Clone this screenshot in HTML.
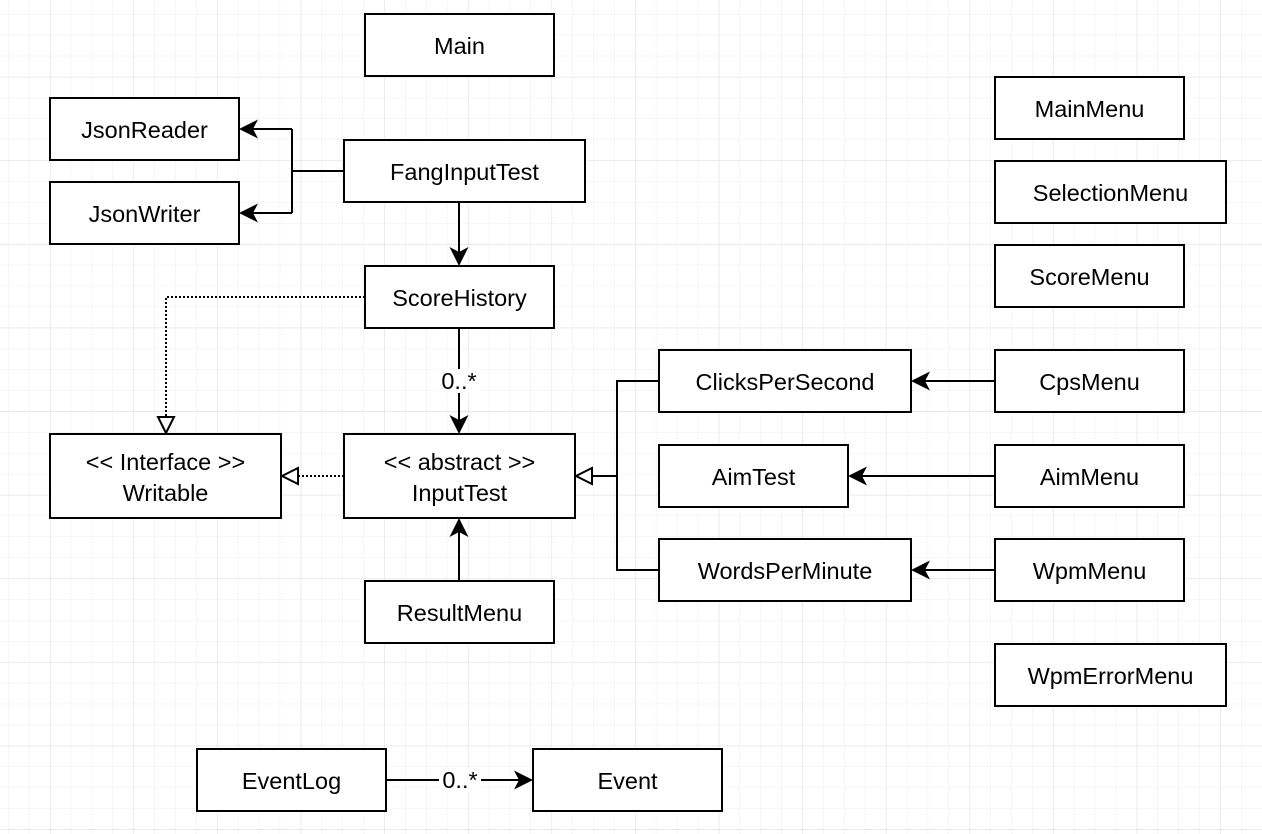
<!DOCTYPE html>
<html><head><meta charset="utf-8"><style>
html,body{margin:0;padding:0;background:#fff}
svg{display:block}
text{font-family:"Liberation Sans",Arial,sans-serif;font-size:23.5px;fill:#000}
</style></head><body>
<svg width="1262" height="834" viewBox="0 0 1262 834" xmlns="http://www.w3.org/2000/svg">
<defs>
<pattern id="g" width="20.9" height="20.9" patternUnits="userSpaceOnUse" x="8" y="14">
<path d="M0 0H20.9M0 0V20.9" stroke="#ececec" stroke-width="1" fill="none"/>
</pattern>
<pattern id="G" width="83.6" height="83.6" patternUnits="userSpaceOnUse" x="50" y="77">
<path d="M0 0H83.6M0 0V83.6" stroke="#e0e0e0" stroke-width="1" fill="none"/>
</pattern>
</defs>
<rect width="1262" height="834" fill="url(#g)"/>
<rect width="1262" height="834" fill="url(#G)"/>
<g stroke="#000" stroke-width="2" fill="none">
<path d="M344 171H292M292 129V213M292 129H250M292 213H250"/>
<path d="M459 202V255"/>
<path d="M459 328V423"/>
<path d="M365 297H166V418" stroke-dasharray="2,2"/>
<path d="M344 476H298" stroke-dasharray="2,2"/>
<path d="M659 381H617V570H659M617 476H592"/>
<path d="M459 581V529"/>
<path d="M995 381H922"/>
<path d="M995 476H859"/>
<path d="M995 570H922"/>
<path d="M386 780H522"/>
</g>
<g fill="#000">
<path d="M239 129L258 119.5L253 129L258 138.5Z"/>
<path d="M239 213L258 203.5L253 213L258 222.5Z"/>
<path d="M459 266L449.5 247L459 252L468.5 247Z"/>
<path d="M459 434L449.5 415L459 420L468.5 415Z"/>
<path d="M459 518L449.5 537L459 532L468.5 537Z"/>
<path d="M911 381L930 371.5L925 381L930 390.5Z"/>
<path d="M848 476L867 466.5L862 476L867 485.5Z"/>
<path d="M911 570L930 560.5L925 570L930 579.5Z"/>
<path d="M533 780L514 770.5L519 780L514 789.5Z"/>
</g>
<g fill="#fff" stroke="#000" stroke-width="2">
<path d="M166 433L158 417L174 417Z"/>
<path d="M282 476L298 468L298 484Z"/>
<path d="M576 476L592 468L592 484Z"/>
</g>
<rect x="438" y="369" width="42" height="24" fill="#fff"/>
<text x="459" y="389" text-anchor="middle" font-size="22">0..*</text>
<rect x="439" y="768" width="42" height="24" fill="#fff"/>
<text x="460" y="788" text-anchor="middle" font-size="22">0..*</text>
<g stroke="#000" stroke-width="2" fill="#fff">
<rect x="365" y="14" width="189" height="62"/>
<rect x="50" y="98" width="189" height="62"/>
<rect x="50" y="182" width="189" height="62"/>
<rect x="344" y="140" width="241" height="62"/>
<rect x="365" y="266" width="189" height="62"/>
<rect x="50" y="434" width="231" height="84"/>
<rect x="344" y="434" width="231" height="84"/>
<rect x="365" y="581" width="189" height="62"/>
<rect x="659" y="350" width="252" height="62"/>
<rect x="659" y="445" width="189" height="62"/>
<rect x="659" y="539" width="252" height="62"/>
<rect x="995" y="77" width="189" height="62"/>
<rect x="995" y="161" width="231" height="62"/>
<rect x="995" y="245" width="189" height="62"/>
<rect x="995" y="350" width="189" height="62"/>
<rect x="995" y="445" width="189" height="62"/>
<rect x="995" y="539" width="189" height="62"/>
<rect x="995" y="644" width="231" height="62"/>
<rect x="197" y="749" width="189" height="62"/>
<rect x="533" y="749" width="189" height="62"/>
</g>
<g text-anchor="middle">
<text x="459.5" y="54">Main</text>
<text x="144.5" y="138">JsonReader</text>
<text x="144.5" y="222">JsonWriter</text>
<text x="464.5" y="180">FangInputTest</text>
<text x="459.5" y="306">ScoreHistory</text>
<text x="165.5" y="470">&lt;&lt; Interface &gt;&gt;</text>
<text x="165.5" y="501">Writable</text>
<text x="459.5" y="470">&lt;&lt; abstract &gt;&gt;</text>
<text x="459.5" y="501">InputTest</text>
<text x="459.5" y="621">ResultMenu</text>
<text x="785" y="390">ClicksPerSecond</text>
<text x="753.5" y="485">AimTest</text>
<text x="785" y="579">WordsPerMinute</text>
<text x="1089.5" y="117">MainMenu</text>
<text x="1110.5" y="201">SelectionMenu</text>
<text x="1089.5" y="285">ScoreMenu</text>
<text x="1089.5" y="390">CpsMenu</text>
<text x="1089.5" y="485">AimMenu</text>
<text x="1089.5" y="579">WpmMenu</text>
<text x="1110.5" y="684">WpmErrorMenu</text>
<text x="291.5" y="789">EventLog</text>
<text x="627.5" y="789">Event</text>
</g>
</svg>
</body></html>
